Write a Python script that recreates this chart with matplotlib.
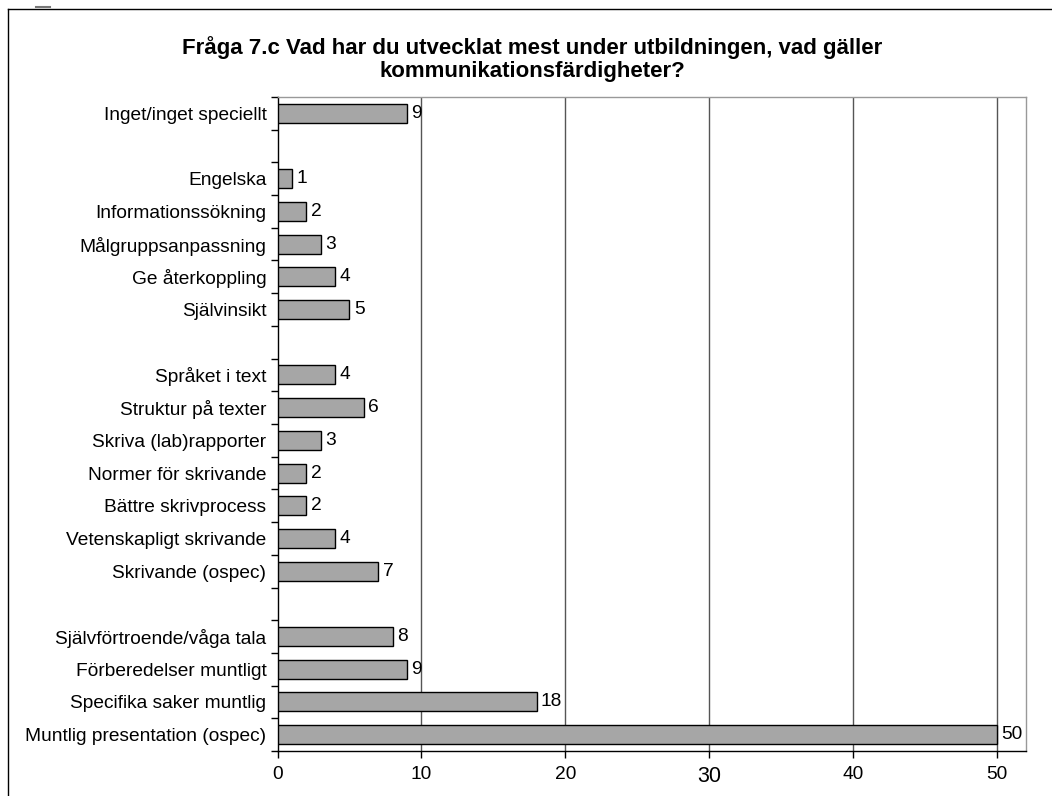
import matplotlib
matplotlib.use("Agg")
import matplotlib.pyplot as plt
from matplotlib.lines import Line2D

plt.rcParams['font.family'] = ['Liberation Sans', 'DejaVu Sans']

categories = [
    "Inget/inget speciellt", "",
    "Engelska", "Informationssökning", "Målgruppsanpassning", "Ge återkoppling", "Självinsikt", "",
    "Språket i text", "Struktur på texter", "Skriva (lab)rapporter", "Normer för skrivande",
    "Bättre skrivprocess", "Vetenskapligt skrivande", "Skrivande (ospec)", "",
    "Självförtroende/våga tala", "Förberedelser muntligt", "Specifika saker muntlig",
    "Muntlig presentation (ospec)",
]
values = [9, None, 1, 2, 3, 4, 5, None, 4, 6, 3, 2, 2, 4, 7, None, 8, 9, 18, 50]
xticks = [0, 10, 20, 30, 40, 50]
title = "Fråga 7.c Vad har du utvecklat mest under utbildningen, vad gäller\nkommunikationsfärdigheter?"

W, H = 1052, 796
fig = plt.figure(figsize=(W / 100, H / 100), dpi=100)
ax = fig.add_axes([277.5 / W, 1 - 751 / H, (1026 - 277.5) / W, (751 - 97) / H])

FS = 13.8
n = len(categories)
ypos = list(range(n))
for y, v in zip(ypos, values):
    if v is None:
        continue
    ax.barh(y, v, height=0.58, color="#A6A6A6", edgecolor="black", linewidth=1.0, zorder=3)
    ax.text(v + 0.3, y, str(v), va="center", ha="left", fontsize=FS, zorder=4)

ax.set_ylim(n - 0.5, -0.5)
ax.set_xlim(0, 52)
ax.set_yticks([y - 0.5 for y in range(n + 1)])
ax.set_yticklabels([])
ax.set_yticks(ypos, minor=True)
ax.set_yticklabels(categories, minor=True, fontsize=FS)
ax.tick_params(axis="y", which="minor", length=0, pad=8)
ax.tick_params(axis="y", which="major", length=5, direction="out", width=1, color="black")

ax.set_xticks(xticks)
ax.set_xticklabels([str(t) for t in xticks], fontsize=FS)
for lbl in ax.get_xticklabels():
    if lbl.get_text() == "30":
        lbl.set_fontsize(15.5)
ax.tick_params(axis="x", length=5, direction="out", width=1, pad=6)

for t in xticks[1:]:
    ax.axvline(t, color="#555555", linewidth=1.0, zorder=1)

ax.spines["left"].set_color("black")
ax.spines["bottom"].set_color("black")
ax.spines["top"].set_color("#999999")
ax.spines["right"].set_color("#999999")
for s in ax.spines.values():
    s.set_linewidth(1.0)

fig.text(532 / W, 1 - 59 / H, title, ha="center", va="center", fontsize=16, fontweight="bold",
         linespacing=1.15)

# outer frame lines
fig.add_artist(Line2D([8 / W, 8 / W], [0, 1 - 9 / H], transform=fig.transFigure, color="black", linewidth=1))
fig.add_artist(Line2D([8 / W, 1], [1 - 9 / H, 1 - 9 / H], transform=fig.transFigure, color="black", linewidth=1))
fig.add_artist(Line2D([36 / W, 50 / W], [1 - 7 / H, 1 - 7 / H], transform=fig.transFigure, color="#777777", linewidth=1.5))

fig.savefig("out.png", dpi=100)
